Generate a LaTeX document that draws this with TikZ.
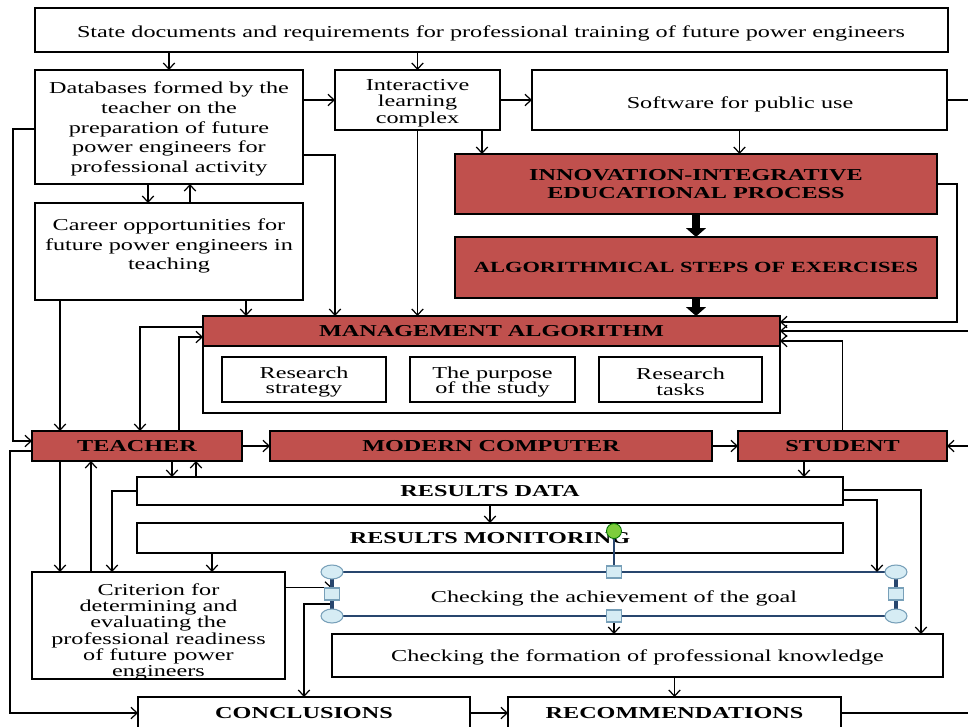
\documentclass[tikz,border=0pt]{standalone}
\usepackage{fontspec}
\setmainfont{Liberation Serif}[FakeStretch=1.45]
\usetikzlibrary{arrows.meta,calc}
\definecolor{redfill}{RGB}{192,80,77}
\definecolor{hfill}{RGB}{214,236,244}
\definecolor{hdraw}{RGB}{120,160,185}
\definecolor{selblue}{RGB}{40,70,110}
\definecolor{gfill}{RGB}{125,205,60}
\newcommand\pxbox[7]{\node[#6,minimum width={(#4-#2)*0.02cm},minimum height={(#5-#3)*0.02cm},anchor=north west] (#1) at (#2,#3) {#7};}
\begin{document}
\begin{tikzpicture}[x=0.02cm,y=-0.02cm,font=\fontsize{9.5}{11.3}\selectfont,
  box/.style={draw=black,line width=1.5pt,fill=white,inner sep=0pt,outer sep=0pt,align=center},
  redbox/.style={box,fill=redfill,font=\fontsize{9.5}{10.2}\selectfont\bfseries},
  boldbox/.style={box,font=\fontsize{9.5}{11}\selectfont\bfseries},
  conn/.style={line width=0.7pt,-{Straight Barb[length=3.5pt,width=6.5pt]}},
  plain/.style={line width=0.7pt},
  thickarr/.style={line width=4.5pt,-{Triangle[length=5pt,width=11pt]}},
  selbox/.style={draw=selblue,line width=0.8pt,fill=white,inner sep=0pt,outer sep=0pt,align=center},
  circhandle/.style={draw=hdraw,fill=hfill,line width=0.6pt},
  sqhandle/.style={draw=hdraw,fill=hfill,line width=0.6pt,minimum width=0.3cm,minimum height=0.24cm,inner sep=0pt}]
\useasboundingbox (0,0) rectangle (968,727);
% boxes
\pxbox{state}{35}{8}{948}{52}{box}{}
\node (statetxt) at (491,33) {State documents and requirements for professional training of future power engineers};
\pxbox{db}{35}{70}{303}{184}{box}{}
\node[align=center] (dbtxt) at (169,129) {Databases formed by the\\teacher on the\\preparation of future\\power engineers for\\professional activity};
\pxbox{ilc}{335}{70}{500}{130}{box}{}
\node[align=center,font=\fontsize{9.5}{9.35}\selectfont] (ilctxt) at (417.5,103) {Interactive\\learning\\complex};
\pxbox{soft}{532}{70}{947}{130}{box}{}
\node (softtxt) at (740,104) {Software for public use};
\pxbox{innov}{455}{154}{937}{214}{redbox}{INNOVATION-INTEGRATIVE\\EDUCATIONAL PROCESS}
\pxbox{algo}{455}{237}{937}{298}{redbox,font=\fontsize{8.8}{10}\selectfont\bfseries}{ALGORITHMICAL STEPS OF EXERCISES}
\pxbox{career}{35}{203}{303}{300}{box}{}
\node[align=center] (careertxt) at (169,246) {Career opportunities for\\future power engineers in\\teaching};
\pxbox{mgmt}{203}{316}{780}{413}{box}{}
\pxbox{mhead}{203}{316}{780}{346}{redbox}{MANAGEMENT ALGORITHM}
\pxbox{rs}{222}{357}{386}{402}{box}{}
\pxbox{pur}{410}{357}{575}{402}{box}{}
\pxbox{rt}{599}{357}{762}{402}{box}{}
\begin{scope}[font=\fontsize{9.5}{9}\selectfont]
\node[align=center] (rstxt) at (304,382) {Research\\strategy};
\node[align=center] (purtxt) at (492.5,382) {The purpose\\of the study};
\node[align=center] (rttxt) at (680.5,382) {Research\\tasks};
\end{scope}
\pxbox{teacher}{32}{431}{242}{461}{redbox}{TEACHER}
\pxbox{mc}{270}{431}{712}{461}{redbox}{MODERN COMPUTER}
\pxbox{stu}{738}{431}{947}{461}{redbox}{STUDENT}
\pxbox{rd}{137}{477}{843}{505}{boldbox}{RESULTS DATA}
\pxbox{rm}{137}{523}{843}{553}{boldbox}{RESULTS MONITORING}
\pxbox{crit}{32}{572}{285}{679}{box}{}
\begin{scope}
\clip (crit.north west) rectangle (crit.south east);
\node[align=center,font=\fontsize{9.5}{9.25}\selectfont] (crittxt) at (158.5,632) {Criterion for\\determining and\\evaluating the\\professional readiness\\of future power\\engineers};
\end{scope}
\draw[line width=1.5pt] (crit.north west) rectangle (crit.south east);
\pxbox{form}{332}{634}{943}{677}{box}{}
\node (formtxt) at (637.5,657) {Checking the formation of professional knowledge};
\pxbox{conc}{138}{697}{470}{729}{boldbox}{CONCLUSIONS}
\pxbox{rec}{508}{697}{841}{729}{boldbox}{RECOMMENDATIONS}
\pxbox{goal}{332}{572}{896}{616}{selbox}{}
\node (goaltxt) at (614,598) {Checking the achievement of the goal};
% connectors
\draw[conn] (state.south -| db.north) -- (db.north);
\draw[conn] (state.south -| ilc.north) -- (ilc.north);
\draw[conn] (db.east |- ilc.west) -- (ilc.west);
\draw[conn] (ilc.east) -- (soft.west);
\draw[conn] (soft.east) -- ++(30,0) |- (mhead.east);
\draw[conn] (soft.south) -- (soft.south |- innov.north);
\draw[conn] ($(ilc.south east)+(-18,0)$) coordinate (a1) -- (a1 |- innov.north);
\draw[conn] (ilc.south) -- (ilc.south |- mhead.north);
\draw[conn] ($(db.south east)+(0,-29)$) -| ($(mhead.north west)+(132,0)$);
\draw[conn] ($(career.south east)+(-57,0)$) coordinate (c1) -- (c1 |- mhead.north);
\draw[conn] ($(db.south)+(-21,0)$) coordinate (d1) -- (d1 |- career.north);
\draw[conn] ($(career.north)+(21,0)$) coordinate (d2) -- (d2 |- db.south);
\draw[thickarr] (innov.south) -- (algo.north);
\draw[thickarr] (algo.south) -- (algo.south |- mhead.north);
\draw[conn] (innov.east) -- ++(20,0) |- ($(mhead.east)+(0,-9)$);
\draw[conn] (stu.north) |- ($(mhead.east)+(0,10)$);
\draw[conn] ($(db.south west)+(0,-55)$) -- ++(-22,0) |- ($(teacher.west)+(0,-5)$);
\draw[conn] ($(career.south west)+(25,0)$) coordinate (c2) -- (c2 |- teacher.north);
\draw[conn] ($(mhead.west)+(0,-4)$) -| ($(teacher.north west)+(108,0)$);
\draw[conn] ($(teacher.north west)+(147,0)$) |- ($(mhead.west)+(0,6)$);
\draw[conn] (teacher.east) -- (mc.west);
\draw[conn] (mc.east) -- (stu.west);
\draw[conn] ($(stu.east)+(30,0)$) -- (stu.east);
\draw[conn] ($(teacher.west)+(0,5)$) -- ++(-22,0) |- (conc.west);
\draw[conn] ($(teacher.south west)+(140,0)$) coordinate (t1) -- (t1 |- rd.north);
\draw[conn] ($(rd.north west)+(59,0)$) coordinate (t2) -- (t2 |- teacher.south);
\draw[conn] ($(teacher.south west)+(28,0)$) coordinate (t3) -- (t3 |- crit.north);
\draw[conn] ($(crit.north west)+(59,0)$) coordinate (t4) -- (t4 |- teacher.south);
\draw[conn] (rd.west) -| ($(crit.north west)+(80,0)$);
\draw[conn] ($(rm.south west)+(75,0)$) coordinate (m1) -- (m1 |- crit.north);
\draw[conn] (rd.south) -- (rm.north);
\draw[conn] ($(stu.south west)+(66,0)$) coordinate (s1) -- (s1 |- rd.north);
\draw[conn] ($(rd.east)+(0,-1)$) -| ($(form.north east)+(-22,0)$);
\draw[conn] ($(rd.east)+(0,9)$) -| ($(goal.north east)+(-19,0)$);
\draw[conn] ($(crit.east)+(0,-38)$) coordinate (k1) -- (k1 -| goal.west);
\draw[conn] ($(goal.west)+(0,10)$) -| (conc.north);
\draw[conn] (goal.south) -- (goal.south |- form.north);
\draw[conn] (rec.north |- form.south) -- (rec.north);
\draw[conn] (conc.east) -- (rec.west);
\draw[plain] (rec.east) -- ++(140,0);
% selection handles
\draw[selblue,line width=1.8pt] (goal.north west) -- (goal.south west);
\draw[selblue,line width=1.8pt] (goal.north east) -- (goal.south east);
\node[circle,fill=gfill,draw=green!45!black,line width=0.5pt,minimum size=0.3cm,inner sep=0pt] (rot) at (614,531) {};
\draw[selblue,line width=1.2pt] (rot.south) -- (goal.north);
\foreach \c in {north west,north east,south west,south east}
  \draw[circhandle] (goal.\c) ellipse [x radius=0.22cm,y radius=0.14cm];
\node[sqhandle] (hn) at (goal.north) {};
\node[sqhandle] (hs) at (goal.south) {};
\node[sqhandle] (hw) at (goal.west) {};
\node[sqhandle] (he) at (goal.east) {};
\end{tikzpicture}
\end{document}
